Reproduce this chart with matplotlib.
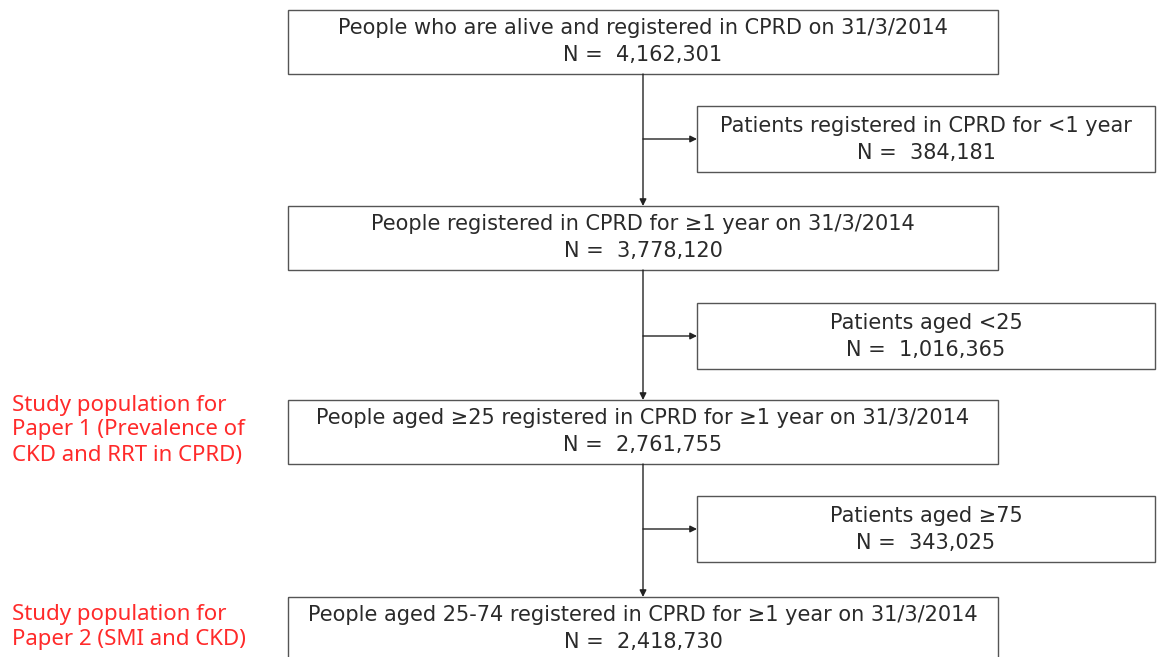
import matplotlib.pyplot as plt
from matplotlib.patches import Rectangle

# flowchart content
main_titles = ["People who are alive and registered in CPRD on 31/3/2014",
               "People registered in CPRD for \u22651 year on 31/3/2014",
               "People aged \u226525 registered in CPRD for \u22651 year on 31/3/2014",
               "People aged 25-74 registered in CPRD for \u22651 year on 31/3/2014"]
main_counts = [4162301, 3778120, 2761755, 2418730]
excl_titles = ["Patients registered in CPRD for <1 year",
               "Patients aged <25",
               "Patients aged \u226575"]
excl_counts = [384181, 1016365, 343025]
study_labels = {2: "Study population for\nPaper 1 (Prevalence of\nCKD and RRT in CPRD)",
                3: "Study population for\nPaper 2 (SMI and CKD)"}

main_tops = [10, 206, 400, 597]
excl_tops = [106, 303, 496]

W, H = 1157, 657
fig = plt.figure(figsize=(W / 100, H / 100), dpi=100)
ax = fig.add_axes([0, 0, 1, 1])
ax.set_xlim(0, W)
ax.set_ylim(H, 0)
ax.axis('off')

box_font = dict(family=['Liberation Sans Narrow', 'DejaVu Sans'], fontsize=15, color='#2a2a2a')
edge = '#555555'

mx0, mx1 = 288, 998
ex0, ex1 = 697, 1155
mh, eh = 64, 66
cx = 643

for i, (t, n) in enumerate(zip(main_titles, main_counts)):
    top = main_tops[i]
    ax.add_patch(Rectangle((mx0, top), mx1 - mx0, mh, fill=False, ec=edge, lw=1))
    ax.text((mx0 + mx1) / 2, top + 18, t, ha='center', va='center', **box_font)
    ax.text((mx0 + mx1) / 2, top + 45, "N =  {:,}".format(n), ha='center', va='center', **box_font)

for i, (t, n) in enumerate(zip(excl_titles, excl_counts)):
    top = excl_tops[i]
    ax.add_patch(Rectangle((ex0, top), ex1 - ex0, eh, fill=False, ec=edge, lw=1))
    ax.text((ex0 + ex1) / 2, top + 20, t, ha='center', va='center', **box_font)
    ax.text((ex0 + ex1) / 2, top + 47, "N =  {:,}".format(n), ha='center', va='center', **box_font)
    # vertical arrow from main box to next main box
    ax.annotate('', xy=(cx, main_tops[i + 1]), xytext=(cx, main_tops[i] + mh),
                arrowprops=dict(arrowstyle='-|>', color='#222222', lw=1, mutation_scale=10,
                                shrinkA=0, shrinkB=0))
    # branch arrow to exclusion box
    ym = top + eh / 2
    ax.annotate('', xy=(ex0, ym), xytext=(cx, ym),
                arrowprops=dict(arrowstyle='-|>', color='#222222', lw=1, mutation_scale=10,
                                shrinkA=0, shrinkB=0))

for i, lab in study_labels.items():
    ax.text(12, main_tops[i] + mh / 2 - 2, lab, ha='left', va='center', color='#ff2a2a',
            family=['Noto Sans', 'DejaVu Sans'], fontsize=16, linespacing=1.25)

fig.savefig('out.png', dpi=100)
